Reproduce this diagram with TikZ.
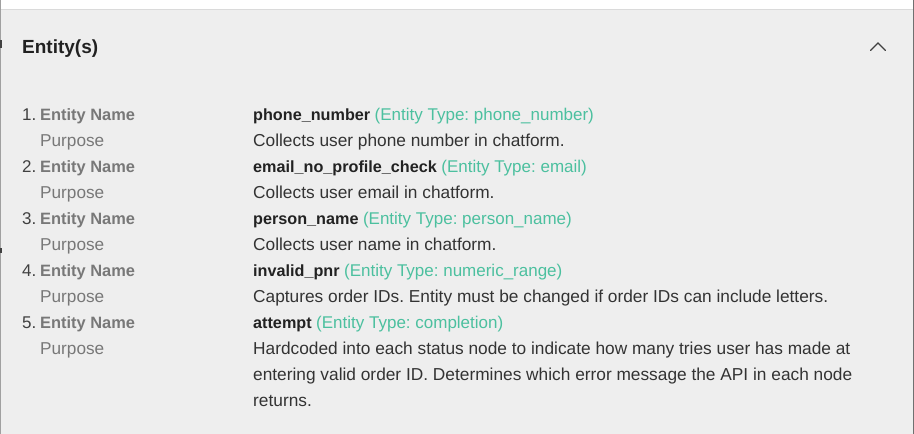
\documentclass[tikz,border=0pt]{standalone}
\usepackage{fontspec}
\setmainfont{Liberation Sans}
\usetikzlibrary{positioning}
\frenchspacing
\definecolor{panelgray}{HTML}{EEEEEE}
\definecolor{rulegray}{HTML}{DADADA}
\definecolor{edgegray}{HTML}{707070}
\definecolor{sidegray}{HTML}{A0A0A0}
\definecolor{headdark}{HTML}{212121}
\definecolor{numgray}{HTML}{404040}
\definecolor{keygray}{HTML}{787878}
\definecolor{valdark}{HTML}{222222}
\definecolor{descdark}{HTML}{333333}
\definecolor{typegreen}{HTML}{4CC09F}
\newcommand{\enttype}[1]{{\mdseries\fontsize{17}{26}\selectfont\color{typegreen}(Entity Type: #1)}}

\begin{document}
\begin{tikzpicture}[x=1pt,y=-1pt,
                every node/.style={inner sep=0pt,anchor=base west},
                head node/.style={font=\fontsize{19}{24}\selectfont\bfseries,text=headdark},
                num node/.style={font=\fontsize{17}{26}\selectfont,text=numgray},
                key node/.style={font=\fontsize{16.4}{26}\selectfont\bfseries,text=keygray},
                purp node/.style={font=\fontsize{17.2}{26}\selectfont,text=keygray},
                val node/.style={font=\fontsize{16.2}{26}\selectfont\bfseries,text=valdark},
                desc node/.style={font=\fontsize{17.3}{26}\selectfont,text=descdark,align=left}]
                \useasboundingbox (0,0) rectangle (914,434);
                % panel
                \fill[white] (0,0) rectangle (914,9);
                \fill[panelgray] (0,9) rectangle (914,434);
                \draw[rulegray] (0,9.5) -- (913,9.5);
                \draw[sidegray] (0.5,0) -- (0.5,434);
                \draw[line width=1.5pt,black!75] (0.75,40) -- (0.75,48);
                \draw[line width=1.5pt,black!75] (0.75,248) -- (0.75,253);
                \draw[line width=1.5pt,edgegray] (913.25,0) -- (913.25,434);
                % header
                \node[head node] (head) at (22,53) {Entity(s)};
                \draw[line width=1.3pt,black!75,line cap=round] (870.5,50.5) -- (878,43) -- (885.5,50.5);

                \node[num node] (n1) at (22,120) {1.};
                \node[key node] (k1) at (40,120) {Entity Name};
                \node[val node] (v1) at (253,120) {phone\_number \enttype{phone\_number}};
                \node[purp node] (p1) at (40,146) {Purpose};
                \node[desc node] (d1) at (253,146) {Collects user phone number in chatform.};

                \node[num node] (n2) at (22,172) {2.};
                \node[key node] (k2) at (40,172) {Entity Name};
                \node[val node] (v2) at (253,172) {email\_no\_profile\_check \enttype{email}};
                \node[purp node] (p2) at (40,198) {Purpose};
                \node[desc node] (d2) at (253,198) {Collects user email in chatform.};

                \node[num node] (n3) at (22,224) {3.};
                \node[key node] (k3) at (40,224) {Entity Name};
                \node[val node] (v3) at (253,224) {person\_name \enttype{person\_name}};
                \node[purp node] (p3) at (40,250) {Purpose};
                \node[desc node] (d3) at (253,250) {Collects user name in chatform.};

                \node[num node] (n4) at (22,276) {4.};
                \node[key node] (k4) at (40,276) {Entity Name};
                \node[val node] (v4) at (253,276) {invalid\_pnr \enttype{numeric\_range}};
                \node[purp node] (p4) at (40,302) {Purpose};
                \node[desc node] (d4) at (253,302) {Captures order IDs. Entity must be changed if order IDs can include letters.};

                \node[num node] (n5) at (22,328) {5.};
                \node[key node] (k5) at (40,328) {Entity Name};
                \node[val node] (v5) at (253,328) {attempt \enttype{completion}};
                \node[purp node] (p5) at (40,354) {Purpose};
                % base of a multi-line node is its last line
                \node[desc node] (d5) at (253,406) {Hardcoded into each status node to indicate how many tries user has made at\\
                        entering valid order ID. Determines which error message the API in each node\\
                        returns.};
\end{tikzpicture}
\end{document}
